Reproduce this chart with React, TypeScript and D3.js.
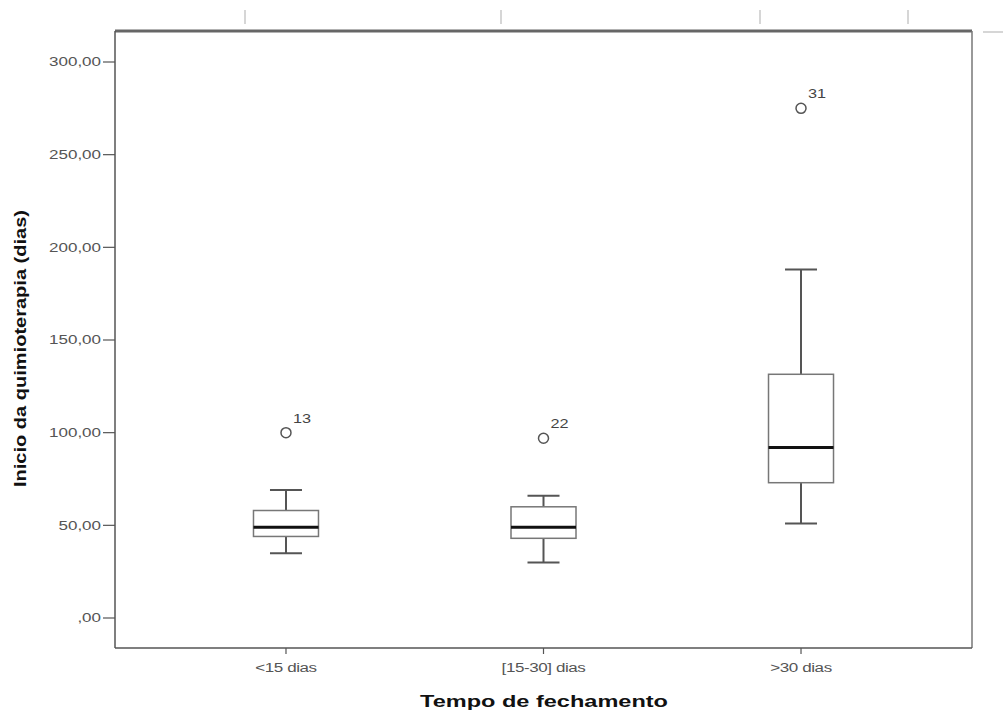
import React from "react";
import * as d3 from "d3";

const categories = ["<15 dias", "[15-30] dias", ">30 dias"];
const whiskerLow = [35, 30, 51];
const q1 = [44, 43, 73];
const median = [49, 49, 92];
const q3 = [58, 60, 131.5];
const whiskerHigh = [69, 66, 188];
const outlierValues = [100, 97, 275];
const outlierIds = ["13", "22", "31"];
const yTicks = [0, 50, 100, 150, 200, 250, 300];
const topTickX = [245, 501, 760, 908];

export default function App() {
  const W = 1003, H = 715;
  const left = 115, right = 972, top = 31, bottom = 648;
  const x = d3.scalePoint<string>().domain(categories).range([left, right]).padding(0.664);
  const y = d3.scaleLinear().domain([0, 300]).range([618, 62]);
  const fmt = (v: number) => (v === 0 ? ",00" : v.toFixed(2).replace(".", ","));
  const boxW = 65, capW = 32;
  const stroke = "#555";
  const SX = 1.36;
  return (
    <svg width={W} height={H} style={{ position: "absolute", left: 0, top: 0, background: "#fff" }}
      fontFamily="Arial, Liberation Sans, sans-serif">
      {topTickX.map((tx, i) => (
        <line key={i} x1={tx} x2={tx} y1={10} y2={24} stroke="#bbb" strokeWidth={1.2} />
      ))}
      <line x1={983} x2={1003} y1={32} y2={32} stroke="#bbb" strokeWidth={1.2} />
      <line x1={left} x2={right} y1={top} y2={top} stroke="#666" strokeWidth={3} />
      <line x1={right} x2={right} y1={top} y2={bottom} stroke="#777" strokeWidth={1.5} />
      <line x1={left} x2={left} y1={top} y2={bottom} stroke="#555" strokeWidth={1.5} />
      <line x1={left} x2={right} y1={bottom} y2={bottom} stroke="#555" strokeWidth={1.5} />
      {yTicks.map((t) => (
        <g key={t}>
          <line x1={left - 12} x2={left} y1={y(t)} y2={y(t)} stroke="#555" strokeWidth={1.2} />
          <text transform={`translate(${left - 14},${y(t)}) scale(${SX},1)`} dy="0.35em" textAnchor="end" fontSize={12.5} fill="#555">{fmt(t)}</text>
        </g>
      ))}
      {categories.map((c) => (
        <g key={c}>
          <line x1={x(c)} x2={x(c)} y1={bottom} y2={bottom + 6} stroke="#555" strokeWidth={1.2} />
          <text transform={`translate(${x(c)},${bottom + 24}) scale(${SX},1)`} textAnchor="middle" fontSize={12.5} fill="#555" letterSpacing={-0.3}>{c}</text>
        </g>
      ))}
      {categories.map((c, i) => {
        const cx = x(c)!;
        return (
          <g key={"b" + c}>
            <line x1={cx} x2={cx} y1={y(whiskerHigh[i])} y2={y(q3[i])} stroke={stroke} strokeWidth={2} />
            <line x1={cx} x2={cx} y1={y(q1[i])} y2={y(whiskerLow[i])} stroke={stroke} strokeWidth={2} />
            <line x1={cx - capW / 2} x2={cx + capW / 2} y1={y(whiskerHigh[i])} y2={y(whiskerHigh[i])} stroke={stroke} strokeWidth={2} />
            <line x1={cx - capW / 2} x2={cx + capW / 2} y1={y(whiskerLow[i])} y2={y(whiskerLow[i])} stroke={stroke} strokeWidth={2} />
            <rect x={cx - boxW / 2} y={y(q3[i])} width={boxW} height={y(q1[i]) - y(q3[i])} fill="#fff" stroke="#777" strokeWidth={1.5} />
            <line x1={cx - boxW / 2} x2={cx + boxW / 2} y1={y(median[i])} y2={y(median[i])} stroke="#111" strokeWidth={3} />
            <circle cx={cx} cy={y(outlierValues[i])} r={5} fill="none" stroke="#555" strokeWidth={1.5} />
            <text transform={`translate(${cx + 7},${y(outlierValues[i]) - 10}) scale(1.25,1)`} fontSize={13} fill="#444">{outlierIds[i]}</text>
          </g>
        );
      })}
      <text x={420} y={707} textLength={248} lengthAdjust="spacingAndGlyphs" fontSize={17} fontWeight="bold" fill="#111">Tempo de fechamento</text>
      <text transform={`translate(26, 487) rotate(-90)`} textLength={277} lengthAdjust="spacingAndGlyphs" fontSize={16} fontWeight="bold" fill="#111">Inicio da quimioterapia (dias)</text>
    </svg>
  );
}
